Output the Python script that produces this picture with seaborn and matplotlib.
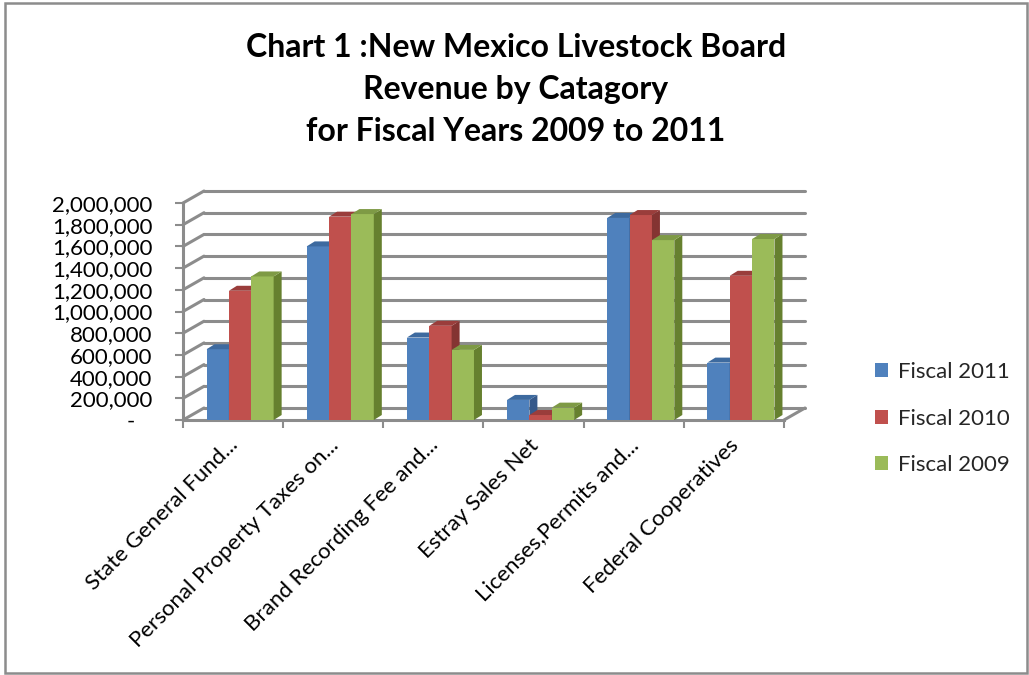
import numpy as np
import pandas as pd
import seaborn as sns
import matplotlib
matplotlib.use("Agg")
import matplotlib.pyplot as plt
from matplotlib.patches import Polygon, Rectangle
from matplotlib.transforms import ScaledTranslation
from matplotlib.lines import Line2D

# ---------------- data ----------------
categories = ["State General Fund...", "Personal Property Taxes on...",
              "Brand Recording Fee and...", "Estray Sales Net",
              "Licenses,Permits and...", "Federal Cooperatives"]
series = ["Fiscal 2011", "Fiscal 2010", "Fiscal 2009"]
fiscal_2011 = [652000, 1600000, 760000, 185000, 1862000, 529000]
fiscal_2010 = [1191000, 1874000, 868000, 46000, 1889000, 1329000]
fiscal_2009 = [1323000, 1898000, 646000, 114000, 1658000, 1668000]
yticks = [0, 200000, 400000, 600000, 800000, 1000000, 1200000,
          1400000, 1600000, 1800000, 2000000]
title = "Chart 1 :New Mexico Livestock Board\nRevenue by Catagory\nfor Fiscal Years 2009 to 2011"

front_colors = ["#4F81BD", "#C0504D", "#9BBB59"]
top_colors = ["#3D6A9F", "#9A3D3B", "#7E9A45"]
side_colors = ["#36598A", "#843432", "#66802F"]
grid_color = "#8C8C8C"

df = pd.DataFrame({
    "Category": categories * 3,
    "Series": np.repeat(series, len(categories)),
    "Value": fiscal_2011 + fiscal_2010 + fiscal_2009,
})

# ---------------- figure ----------------
sns.set_theme(style="white")
plt.rcParams["font.family"] = ["Lato", "DejaVu Sans"]

W, H = 1029, 675
fig = plt.figure(figsize=(W / 100, H / 100), dpi=100)
fig.patch.set_facecolor("white")

ax_left, ax_right, ax_bottom, ax_top = 183, 784, 420, 203
ax = fig.add_axes([ax_left / W, 1 - ax_bottom / H,
                   (ax_right - ax_left) / W, (ax_bottom - ax_top) / H])
ax.set_facecolor("none")

sns.barplot(data=df, x="Category", y="Value", hue="Series",
            order=categories, hue_order=series, palette=front_colors,
            saturation=1, width=0.67, errorbar=None, legend=False, ax=ax,
            zorder=3)

ax.set_xlim(-0.5, len(categories) - 0.5)
ax.set_ylim(0, 2000000)

px_x = (ax_right - ax_left) / len(categories)   # pixels per category
px_y = (ax_bottom - ax_top) / 2000000           # pixels per unit value

# 3D-ish offsets
shift = 7 / px_x
bdx, bdy = 8 / px_x, 5 / px_y
gdx, gdy = 21 / px_x, 12 / px_y

# back wall gridlines + left wall diagonals + floor edge
x0, x1 = -0.5, len(categories) - 0.5
for v in yticks:
    ax.add_line(Line2D([x0 + gdx, x1 + gdx], [v + gdy, v + gdy],
                       color=grid_color, lw=2.2, zorder=1, clip_on=False))
    ax.add_line(Line2D([x0, x0 + gdx], [v, v + gdy],
                       color=grid_color, lw=2.2, zorder=1, clip_on=False))
ax.add_line(Line2D([x1, x1 + gdx], [0, gdy], color=grid_color, lw=2.2,
                   zorder=1, clip_on=False))

# bars: shift and add depth faces
def color_index(fc):
    rgb = np.array(fc[:3])
    d = [np.sum((rgb - np.array(matplotlib.colors.to_rgb(c))) ** 2) for c in front_colors]
    return int(np.argmin(d))

bars = [p for p in ax.patches if isinstance(p, Rectangle) and p.get_height() > 0]
bars.sort(key=lambda p: p.get_x())
for k, p in enumerate(bars):
    ci = color_index(p.get_facecolor())
    p.set_x(p.get_x() + shift)
    p.set_edgecolor("none")
    p.set_zorder(3 + k * 0.01)
    x, w, h = p.get_x(), p.get_width(), p.get_height()
    top = Polygon([(x, h), (x + w, h), (x + w + bdx, h + bdy), (x + bdx, h + bdy)],
                  closed=True, facecolor=top_colors[ci], edgecolor="none",
                  zorder=3 + k * 0.01, clip_on=False)
    side = Polygon([(x + w, 0), (x + w + bdx, bdy), (x + w + bdx, h + bdy), (x + w, h)],
                   closed=True, facecolor=side_colors[ci], edgecolor="none",
                   zorder=3 + k * 0.01, clip_on=False)
    ax.add_patch(side)
    ax.add_patch(top)

# spines
for s in ["top", "right"]:
    ax.spines[s].set_visible(False)
for s in ["left", "bottom"]:
    ax.spines[s].set_color(grid_color)
    ax.spines[s].set_linewidth(2.2)
    ax.spines[s].set_zorder(2)

# y axis
ax.set_yticks(yticks)
ax.set_yticklabels([f"{v:,}" if v else "-   " for v in yticks])
ax.tick_params(axis="y", length=6, width=1.5, color=grid_color, pad=16,
               labelsize=16, labelcolor="black", left=True)

# x axis
ax.set_xticks(range(len(categories)))
ax.set_xticklabels([""] * len(categories))
ax.set_xticks(np.arange(-0.5, len(categories), 1.0), minor=True)
ax.tick_params(axis="x", which="major", length=0)
ax.tick_params(axis="x", which="minor", length=6, width=1.5, color=grid_color,
               bottom=True)
ax.set_xlabel("")
ax.set_ylabel("")

lab_tr = ax.get_xaxis_transform() + ScaledTranslation(2 / 100, -22 / 100, fig.dpi_scale_trans)
for i, c in enumerate(categories):
    ax.text(i, 0, c, transform=lab_tr, rotation=45, rotation_mode="anchor",
            ha="right", va="center", fontsize=16, color="black")

# legend
handles = [Rectangle((0, 0), 1, 1, facecolor=c, edgecolor="none") for c in front_colors]
fig.legend(handles, series, loc="upper left",
           bbox_to_anchor=(866 / W, 1 - 353 / H), frameon=False,
           handlelength=0.6, handleheight=0.6, handletextpad=0.45,
           labelspacing=1.2, fontsize=16, borderaxespad=0)

# title
fig.text(516 / W, 1 - 33 / H, title, ha="center", va="top", fontsize=23,
         fontweight="bold", linespacing=1.55, color="black")

# outer border
fig.add_artist(Rectangle((5 / W, 2 / H), 1022 / W, 670 / H, transform=fig.transFigure,
                         fill=False, edgecolor="#8C8C8C", lw=1.8))

fig.savefig("out.png", dpi=100, facecolor="white")
